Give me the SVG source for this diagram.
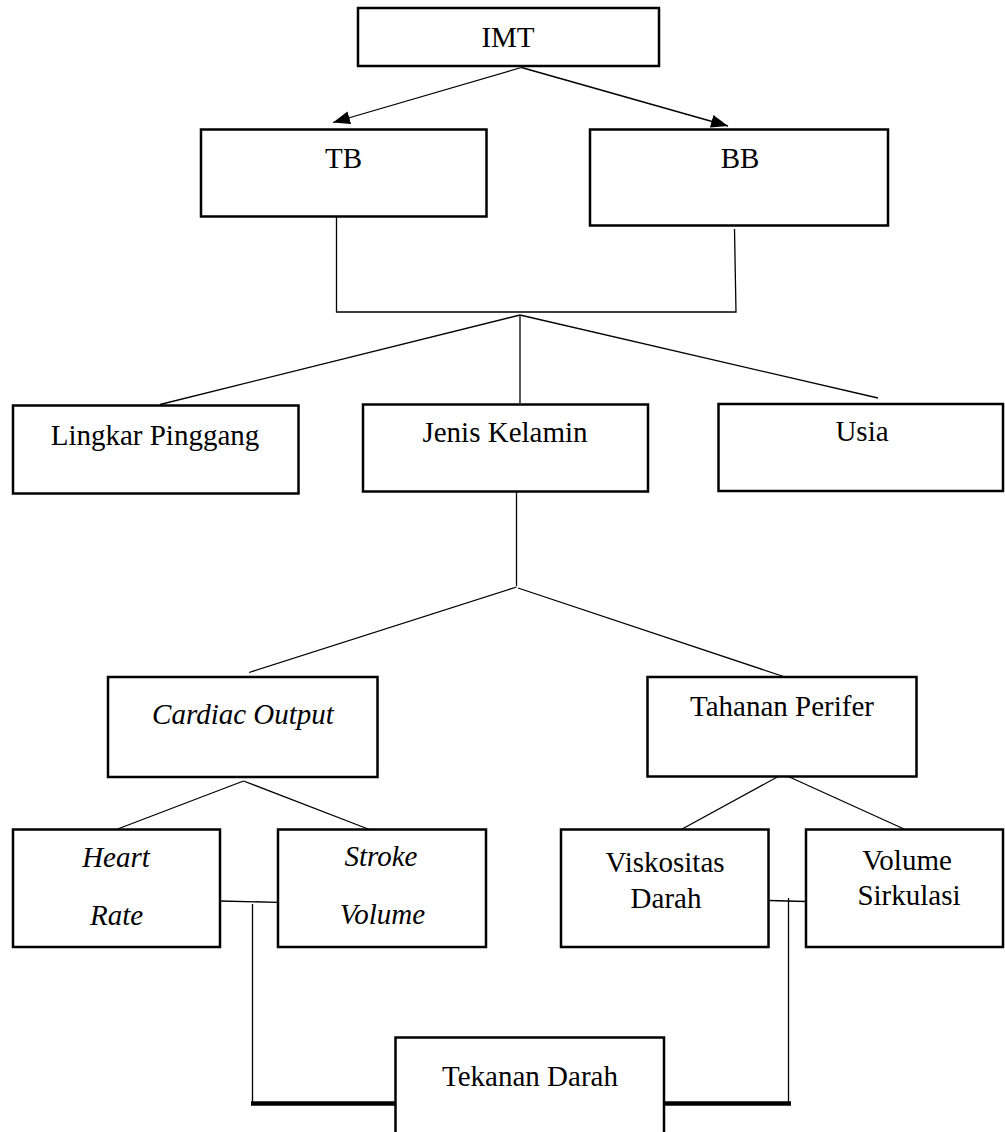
<svg xmlns="http://www.w3.org/2000/svg" width="1005" height="1132" viewBox="0 0 1005 1132">
<style>
  .box { fill: #ffffff; stroke: #000000; stroke-width: 2.5; }
  .lbl { font-family: "Liberation Serif", "Times New Roman", serif; font-size: 29px; fill: #000000; text-anchor: middle; }
  .it { font-style: italic; }
  .ln { stroke: #000000; stroke-width: 1.3; fill: none; }
  .thick { stroke: #000000; stroke-width: 4.5; fill: none; }
</style>
<defs>
  <marker id="arr" markerUnits="userSpaceOnUse" markerWidth="18" markerHeight="14" refX="17" refY="6.5" orient="auto">
    <path d="M0,0 L17,6.5 L0,13 z" fill="#000000"/>
  </marker>
</defs>
<rect width="1005" height="1132" fill="#ffffff"/>

<g id="connectors">
  <line class="ln" x1="521.5" y1="67.5" x2="333" y2="122.5" marker-end="url(#arr)"/>
  <line class="ln" x1="521.5" y1="67.5" x2="728" y2="126" marker-end="url(#arr)"/>
  <polyline class="ln" points="336.5,216 336.5,312 736,312 734.5,229"/>
  <line class="ln" x1="520" y1="315" x2="160" y2="404.5"/>
  <line class="ln" x1="520" y1="315" x2="520" y2="403"/>
  <line class="ln" x1="520" y1="315" x2="878" y2="398"/>
  <line class="ln" x1="516.5" y1="491" x2="516.5" y2="586"/>
  <line class="ln" x1="516.5" y1="587" x2="249" y2="672.5"/>
  <line class="ln" x1="518" y1="588" x2="785" y2="677"/>
  <line class="ln" x1="243.5" y1="781" x2="115" y2="830"/>
  <line class="ln" x1="243.5" y1="781" x2="372" y2="830.5"/>
  <line class="ln" x1="781" y1="775" x2="673" y2="834"/>
  <line class="ln" x1="785" y1="775" x2="904" y2="829"/>
  <line class="ln" x1="220" y1="901" x2="278" y2="902.3"/>
  <line class="ln" x1="252.5" y1="904" x2="252.5" y2="1103"/>
  <line class="thick" x1="251" y1="1103.5" x2="396" y2="1103.5"/>
  <line class="ln" x1="769" y1="900.5" x2="806" y2="901.5"/>
  <line class="ln" x1="788.5" y1="898" x2="788.5" y2="1103"/>
  <line class="thick" x1="663" y1="1103.5" x2="791" y2="1103.5"/>
</g>

<g id="node-imt">
  <rect class="box" x="358" y="8" width="301" height="58"/>
  <text class="lbl" x="508" y="47">IMT</text>
</g>
<g id="node-tb">
  <rect class="box" x="201" y="129.5" width="285.5" height="87"/>
  <text class="lbl" x="343.5" y="167.5">TB</text>
</g>
<g id="node-bb">
  <rect class="box" x="590" y="129.5" width="298" height="96"/>
  <text class="lbl" x="740" y="167.5">BB</text>
</g>
<g id="node-lingkar">
  <rect class="box" x="13" y="405.5" width="285.5" height="88"/>
  <text class="lbl" x="155" y="445">Lingkar Pinggang</text>
</g>
<g id="node-jenis">
  <rect class="box" x="363" y="404.5" width="285" height="87"/>
  <text class="lbl" x="505" y="442">Jenis Kelamin</text>
</g>
<g id="node-usia">
  <rect class="box" x="718.5" y="404" width="284.5" height="87"/>
  <text class="lbl" x="862" y="441">Usia</text>
</g>
<g id="node-cardiac">
  <rect class="box" x="108" y="677" width="269.5" height="100"/>
  <text class="lbl it" x="243" y="724">Cardiac Output</text>
</g>
<g id="node-tahanan">
  <rect class="box" x="647.5" y="677" width="269" height="99.5"/>
  <text class="lbl" x="782" y="716">Tahanan Perifer</text>
</g>
<g id="node-heart">
  <rect class="box" x="13" y="829.5" width="207" height="117.5"/>
  <text class="lbl it" x="116" y="867">Heart</text>
  <text class="lbl it" x="116.5" y="925">Rate</text>
</g>
<g id="node-stroke">
  <rect class="box" x="278" y="829.5" width="208" height="117.5"/>
  <text class="lbl it" x="381" y="866">Stroke</text>
  <text class="lbl it" x="382.5" y="924">Volume</text>
</g>
<g id="node-viskositas">
  <rect class="box" x="561" y="829.5" width="207.5" height="117.5"/>
  <text class="lbl" x="665" y="871.5">Viskositas</text>
  <text class="lbl" x="666" y="907.5">Darah</text>
</g>
<g id="node-volume">
  <rect class="box" x="806" y="829.5" width="197" height="117.5"/>
  <text class="lbl" x="907" y="870">Volume</text>
  <text class="lbl" x="909" y="905">Sirkulasi</text>
</g>
<g id="node-tekanan">
  <rect class="box" x="395.5" y="1037.5" width="268.5" height="110"/>
  <text class="lbl" x="530" y="1086">Tekanan Darah</text>
</g>
</svg>
